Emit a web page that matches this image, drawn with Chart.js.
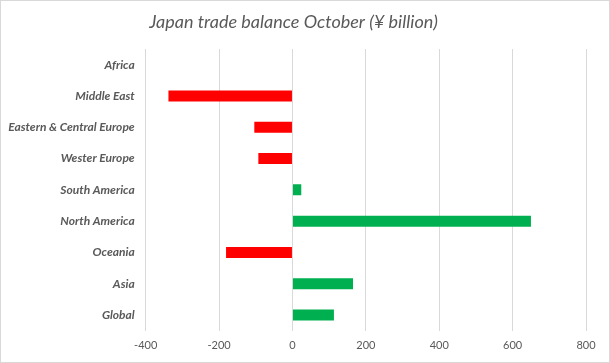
<!DOCTYPE html>
<html>
<head>
<meta charset="utf-8">
<script src="https://cdn.jsdelivr.net/npm/chart.js@4"></script>
<style>
    html, body {
        margin: 0;
        padding: 0;
        background: #ffffff;
    }

    #wrap {
        width: 610px;
        height: 363px;
        box-sizing: border-box;
        border: 1px solid #d9d9d9;
    }

    #tradeChart {
        display: block;
    }
</style>
</head>
<body>

<div id="wrap">
    <canvas id="tradeChart" width="608" height="361"></canvas>
</div>

<script>

const regions = [
    "Africa",
    "Middle East",
    "Eastern & Central Europe",
    "Wester Europe",
    "South America",
    "North America",
    "Oceania",
    "Asia",
    "Global"
];

const balances = [0, -338, -104, -93, 24, 650, -181, 165, 113];

const xTicks = [-400, -200, 0, 200, 400, 600, 800];

const chartTitle = "Japan trade balance October (\u00a5 billion)";

const textGrey = '#595959';
const gridGrey = '#d9d9d9';

Chart.defaults.font.family = "Lato, 'Open Sans', sans-serif";
Chart.defaults.color = textGrey;

new Chart(
    document
    .getElementById('tradeChart')
    .getContext('2d'),

{
    type: 'bar',

    data: {

        labels: regions,

        datasets: [{

            data: balances,

            backgroundColor:
                balances.map(v => v < 0 ? '#ff0000' : '#00b050'),

            borderWidth: 0,

            barPercentage: 0.35,

            categoryPercentage: 1
        }]
    },

    options: {

        indexAxis: 'y',

        responsive: false,

        animation: false,

        layout: {
            padding: {
                top: 0,
                right: 23,
                bottom: 0,
                left: 0
            }
        },

        plugins: {

            legend: {
                display: false
            },

            tooltip: {
                enabled: false
            },

            title: {
                display: true,
                text: chartTitle,
                color: textGrey,
                font: {
                    size: 18,
                    style: 'italic',
                    weight: 'normal'
                },
                padding: {
                    top: 10,
                    bottom: 16.4
                }
            }
        },

        scales: {

            x: {
                min: xTicks[0],
                max: xTicks[xTicks.length - 1],

                afterBuildTicks: scale => {
                    scale.ticks = xTicks.map(v => ({ value: v }));
                },

                afterFit: scale => {
                    scale.height = 31.3;
                },

                grid: {
                    color: gridGrey,
                    lineWidth: 1,
                    drawTicks: false
                },

                border: {
                    display: false
                },

                ticks: {
                    padding: 8,
                    color: textGrey,
                    font: {
                        size: 11
                    }
                }
            },

            y: {
                afterFit: scale => {
                    scale.width = 144.7;
                },

                grid: {
                    display: false
                },

                border: {
                    display: false
                },

                ticks: {
                    padding: 3,
                    color: textGrey,
                    font: {
                        size: 12,
                        style: 'italic',
                        weight: 'bold'
                    }
                }
            }
        }
    }
});

</script>
</body>
</html>
